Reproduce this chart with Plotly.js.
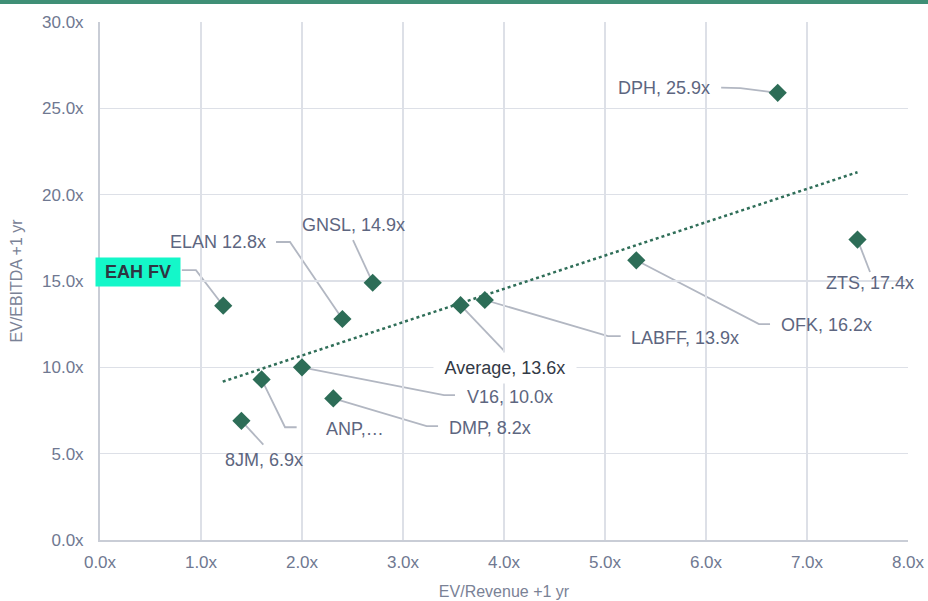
<!DOCTYPE html>
<html>
<head>
<meta charset="utf-8">
<script src="https://cdn.plot.ly/plotly-3.0.1.min.js"></script>
<style>html,body{margin:0;padding:0;background:#fff;}#chart{width:928px;height:601px;}</style>
</head>
<body>
<div id="chart"></div>
<script>
// ---- data ----
const names   = ["EAH FV", "ELAN", "GNSL", "Average", "LABFF", "DPH", "ZTS", "OFK", "V16", "DMP", "ANP", "8JM"];
const evRev   = [1.22, 2.40, 2.70, 3.57, 3.81, 6.71, 7.50, 5.31, 2.00, 2.31, 1.60, 1.40];
const evEbitda= [13.57, 12.8, 14.9, 13.6, 13.9, 25.9, 17.4, 16.2, 10.0, 8.2, 9.3, 6.9];
const labels  = ["EAH FV", "ELAN 12.8x", "GNSL, 14.9x", "Average, 13.6x", "LABFF, 13.9x", "DPH, 25.9x",
                 "ZTS, 17.4x", "OFK, 16.2x", "V16, 10.0x", "DMP, 8.2x", "ANP,…", "8JM, 6.9x"];
const trendX  = [1.215, 7.50];
const trendY  = [9.17, 21.3];
const xTicks  = [0,1,2,3,4,5,6,7,8];
const yTicks  = [0,5,10,15,20,25,30];

// ---- label placement (layout only) ----
const place = [
  {lx:0.381, ly:15.52, anchor:"center", path:[[0.81,15.63],[0.95,15.63]]},
  {lx:1.663, ly:17.26, anchor:"right",  path:[[1.743,17.26],[1.881,17.26]]},
  {lx:2.505, ly:18.24, anchor:"center", path:[[2.505,17.37]]},
  {lx:4.007, ly:9.94,  anchor:"center", path:[[4.004,10.94]]},
  {lx:5.238, ly:11.70, anchor:"left",   path:[[5.155,11.81],[5.03,11.81]]},
  {lx:6.06,  ly:26.17, anchor:"right",  path:[[6.15,26.20],[6.34,26.17]]},
  {lx:7.624, ly:14.88, anchor:"center", path:[[7.624,15.52]]},
  {lx:6.72,  ly:12.45, anchor:"left",   path:[[6.634,12.50],[6.525,12.50]]},
  {lx:3.614, ly:8.26,  anchor:"left",   path:[[3.515,8.39],[3.406,8.39]]},
  {lx:3.44,  ly:6.47,  anchor:"left",   path:[[3.347,6.60],[3.234,6.60]]},
  {lx:2.525, ly:6.43,  anchor:"center", path:[[1.947,6.53],[1.832,6.53]]},
  {lx:1.624, ly:4.63,  anchor:"center", path:[[1.617,5.53]]}
];

const FONT = "Liberation Sans, Arial, sans-serif";
const labelColor = "#5d6680";
const tickColor = "#6f7891";

const annotations = [];
const shapes = [];
names.forEach((n, i) => {
  const p = place[i];
  const a = {
    x: p.lx, y: p.ly, xref: "x", yref: "y", text: labels[i], showarrow: false,
    xanchor: p.anchor, yanchor: "middle",
    font: {family: FONT, size: 18, color: labelColor}
  };
  if (n === "EAH FV") {
    a.text = "<b>EAH FV</b>";
    a.bgcolor = "#14f7c9";
    a.font.color = "#2e3542";
    a.width = 78; a.height = 22; a.borderpad = 3;
  }
  if (n === "Average") {
    a.bgcolor = "#ffffff";
    a.font.color = "#333a46";
    a.width = 134; a.height = 22; a.borderpad = 4;
  }
  annotations.push(a);
  let d = "M" + p.path[0][0] + "," + p.path[0][1];
  for (let k = 1; k < p.path.length; k++) d += " L" + p.path[k][0] + "," + p.path[k][1];
  d += " L" + evRev[i] + "," + evEbitda[i];
  shapes.push({type: "path", xref: "x", yref: "y", path: d, layer: "below",
               line: {color: "#b2b7c2", width: 1.8}});
});

// top band
shapes.push({type: "rect", xref: "paper", yref: "paper", x0: -100/808, x1: 1 + 20/808,
             y0: 1 + 18/518, y1: 1 + 23/518, fillcolor: "#3f8f76", line: {width: 0}, layer: "above"});

const traces = [
  {x: trendX, y: trendY, mode: "lines", type: "scatter", hoverinfo: "skip",
   line: {color: "#2f6e58", width: 2.5, dash: "dot"}},
  {x: evRev, y: evEbitda, mode: "markers", type: "scatter", text: names,
   marker: {symbol: "diamond", size: 14, color: "#2d6d57", line: {width: 0}}}
];

const layout = {
  width: 928, height: 601,
  margin: {l: 100, r: 20, t: 22, b: 61, pad: 0},
  paper_bgcolor: "#ffffff", plot_bgcolor: "#ffffff",
  showlegend: false,
  font: {family: FONT, size: 17, color: tickColor},
  xaxis: {
    range: [0, 8], tickvals: xTicks, ticktext: xTicks.map(v => v.toFixed(1) + "x"),
    showgrid: true, gridcolor: "#dde0e7", gridwidth: 1.5, zeroline: false,
    showline: true, linecolor: "#c9cdd6", linewidth: 2, ticks: "", ticklabelstandoff: 6,
    tickfont: {family: FONT, size: 17, color: tickColor}, fixedrange: true,
    title: {text: "EV/Revenue +1 yr", font: {family: FONT, size: 16, color: "#7a8296"}, standoff: 14}
  },
  yaxis: {
    range: [0, 30], tickvals: yTicks, ticktext: yTicks.map(v => v.toFixed(1) + "x"),
    showgrid: true, gridcolor: "#dde0e7", gridwidth: 1.5, zeroline: false,
    showline: true, linecolor: "#c9cdd6", linewidth: 2, ticks: "", ticklabelstandoff: 11,
    tickfont: {family: FONT, size: 17, color: tickColor}, fixedrange: true,
    title: {text: "EV/EBITDA +1 yr", font: {family: FONT, size: 16, color: "#7a8296"}, standoff: 15}
  },
  annotations: annotations,
  shapes: shapes
};

Plotly.newPlot("chart", traces, layout, {displayModeBar: false, staticPlot: true});
</script>
</body>
</html>
